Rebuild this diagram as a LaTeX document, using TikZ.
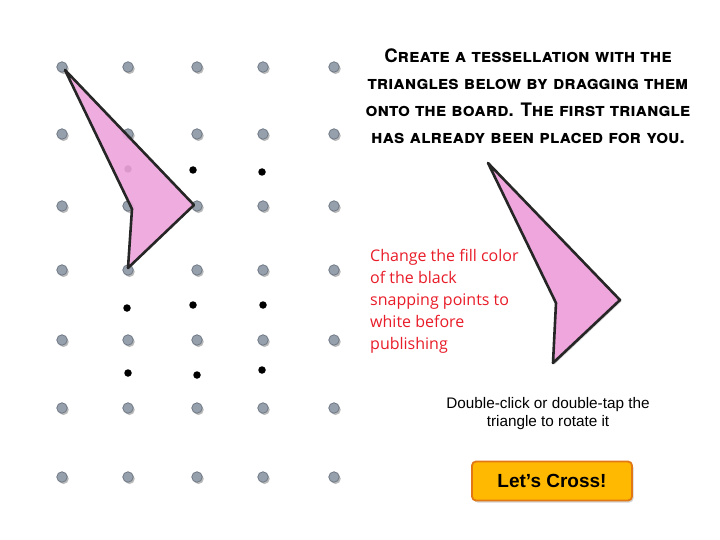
\documentclass[tikz,border=0pt]{standalone}
\usepackage{fontspec}
\setmainfont{Liberation Sans}
\newfontfamily\titlefont[Letters=SmallCaps]{TeX Gyre Heros}
\newfontfamily\notefont{Open Sans}
\usetikzlibrary{shadows}
\definecolor{dotgray}{RGB}{150,160,172}
\definecolor{dotedge}{RGB}{105,115,128}
\definecolor{pinkfill}{RGB}{238,166,220}
\definecolor{notered}{RGB}{232,28,40}
\definecolor{btnfill}{RGB}{255,185,0}
\definecolor{btnedge}{RGB}{226,120,20}
\tikzset{
  graydot/.style={circle, inner sep=0pt, minimum size=10.5pt, fill=dotgray, draw=dotedge, line width=0.7pt,
    drop shadow={shadow xshift=1.5pt, shadow yshift=-1.8pt, fill=black!50, opacity=0.55}},
  blackdot/.style={circle, inner sep=0pt, minimum size=7.5pt, fill=black},
  tri/.style={fill=pinkfill, fill opacity=0.92, draw=black!85, line width=2.6pt, line join=round},
  note/.style={font=\notefont\fontsize{16}{22}\selectfont, text=notered, align=left, inner sep=0pt, anchor=north west},
}
\begin{document}
\begin{tikzpicture}[x=1pt,y=-1pt]
\useasboundingbox (0,0) rectangle (720,540);
% grid of gray dots
\foreach \c/\x in {1/62,2/128,3/197,4/263,5/334}{
  \foreach \r/\y in {1/67,2/134,3/206,4/270,5/340,6/408,7/477}{
    \node[graydot] (g\r\c) at (\x,\y) {};
  }
}
% black snapping points
\node[blackdot] (b1) at (128,169) {};
\node[blackdot] (b2) at (193,170) {};
\node[blackdot] (b3) at (262,172) {};
\node[blackdot] (b4) at (127,308) {};
\node[blackdot] (b5) at (193,305) {};
\node[blackdot] (b6) at (263,305) {};
\node[blackdot] (b7) at (128,373) {};
\node[blackdot] (b8) at (197,375) {};
\node[blackdot] (b9) at (262,370) {};
% placed triangle
\draw[tri] (65,70) -- (194,205) -- (128,268) -- (132,209) -- cycle;
% free triangle
\draw[tri, fill opacity=1, drop shadow={shadow xshift=1.5pt, shadow yshift=-1.5pt, opacity=0.3}] (488,163) -- (620,300) -- (553,363) -- (556,303) -- cycle;
% title
\node[font=\titlefont\bfseries\fontsize{18.6}{27}\selectfont, align=center, inner sep=0pt] (title) at (528,96)
  {Create a tessellation with the\\ triangles below by dragging them\\ onto the board. The first triangle\\ has already been placed for you.};
% note
\node[note] (note) at (370,249) {Change the fill color\\of the black\\snapping points to\\white before\\publishing};
% instructions
\node[font=\fontsize{15.3}{18}\selectfont, align=center, inner sep=0pt] (instr) at (548,414)
  {Double-click or double-tap the\\triangle to rotate it};
% button
\node[draw=btnedge, fill=btnfill, line width=1.8pt, rounded corners=4pt, minimum width=160pt, minimum height=39pt,
  font=\bfseries\fontsize{19}{22}\selectfont, drop shadow={shadow xshift=1.5pt, shadow yshift=-2pt, opacity=0.35}] (btn) at (552,481) {Let’s Cross!};
\end{tikzpicture}
\end{document}
